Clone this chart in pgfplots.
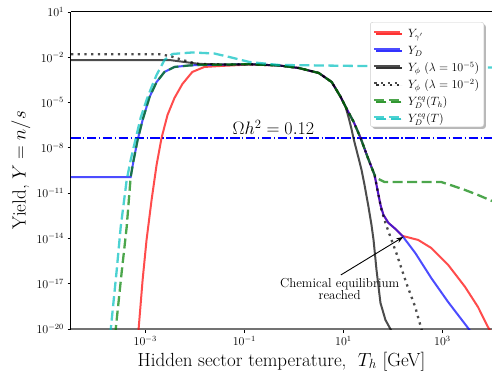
\RequirePackage{fix-cm}
\documentclass[border=0pt]{standalone}
\usepackage{pgfplots}
\pgfplotsset{compat=1.18}
\usetikzlibrary{arrows.meta,shadows}
\definecolor{cgreen}{RGB}{0,128,0}
\definecolor{ccyan}{RGB}{0,191,191}
\newcommand{\ls}{\rule[-5.4pt]{0pt}{18pt}}
\begin{document}
\begin{tikzpicture}
\begin{axis}[
  xmode=log, ymode=log,
  scale only axis, width=421pt, height=317pt,
  xmin=3.1623e-5, xmax=1e4, ymin=1e-20, ymax=1e1,
  axis x line*=bottom, axis y line*=left,
  x axis line style={draw=black!55, line width=2.5pt},
  y axis line style={draw=black, line width=1pt},
  xtick={1e-3,1e-1,1e1,1e3},
  ytick={1e1,1e-2,1e-5,1e-8,1e-11,1e-14,1e-17,1e-20},
  xminorticks=false, yminorticks=false,
  tick align=outside, major tick length=3.5pt,
  tick style={black, line width=0.8pt},
  tick label style={font=\fontsize{12}{14}\selectfont},
  xlabel={Hidden sector temperature,\ \ $T_h$ [GeV]},
  ylabel={Yield,\ $Y = n/s$},
  x label style={at={(axis description cs:0.5,-0.1167)}, anchor=base, font=\fontsize{19}{22}\selectfont},
  y label style={at={(axis description cs:-0.108,0.5)}, anchor=base, font=\fontsize{19}{22}\selectfont},
  no markers,
  legend cell align=left,
  legend image code/.code={\draw[#1] plot coordinates {(0pt,0pt) (26pt,0pt)};},
  legend style={at={(axis description cs:1,1)}, anchor=north east, xshift=-8pt, yshift=-10pt,
    draw=black!20, fill=white, rounded corners=2.5pt,
    drop shadow={shadow xshift=2pt, shadow yshift=-2pt, fill=black!35, opacity=0.8},
    font=\fontsize{12}{14}\selectfont, inner xsep=3pt, inner ysep=1pt,
    nodes={inner sep=1.5pt},
    /tikz/every odd column/.append style={column sep=5pt}},
]
\coordinate (sw) at (rel axis cs:0,0);
\coordinate (nw) at (rel axis cs:0,1);
\coordinate (ne) at (rel axis cs:1,1);

% Omega h^2 = 0.12 line
\addplot[forget plot, blue, line width=1.5pt, dash pattern=on 9.6pt off 2.4pt on 1.5pt off 2.4pt]
  coordinates {(3.1623e-5,4.57e-8) (1e4,4.57e-8)};

% Y_gamma'
\addplot[red, opacity=0.7, line width=2pt] coordinates {
 (7.2e-4,4e-21) (7.33e-4,1e-20) (8.83e-4,1.78e-17) (1.06e-3,7.94e-15) (1.34e-3,3.55e-12)
 (1.69e-3,7.41e-10) (2.13e-3,4.57e-8) (2.81e-3,1.51e-6) (3.88e-3,2.0e-5) (5.61e-3,1.70e-4)
 (8.91e-3,1.07e-3) (1.56e-2,2.29e-3) (3.11e-2,2.63e-3) (0.125,3.31e-3)
 (0.5,2.88e-3) (1.26,1.95e-3) (3.18,9.12e-4) (5.81,2.29e-4) (8.81,2.34e-5) (11.1,5.13e-6)
 (16.1,5.25e-7) (22.2,4.57e-8) (30.7,2.51e-9) (42.5,1.62e-10)
 (48.8,1.62e-11) (56.0,1.66e-12) (64.3,3.63e-13) (81.1,1.07e-13) (112,4.27e-14) (155,1.48e-14)
 (324,7.94e-15) (593,2.34e-15) (1300,1.78e-16) (2858,6.17e-18) (5212,2.88e-19) (8279,1.38e-20) (1e4,4.8e-21)
};
\addlegendentry{\ls$Y_{\gamma'}$}

% Y_D
\addplot[blue, opacity=0.7, line width=2pt] coordinates {
 (3.1623e-5,1.17e-10) (5.07e-4,1.17e-10) (5.82e-4,1.58e-9) (7.00e-4,3.31e-8) (8.83e-4,7.08e-7)
 (1.22e-3,2.34e-5) (1.69e-3,2.29e-4) (2.44e-3,1.07e-3) (3.88e-3,2.29e-3) (7.76e-3,2.88e-3)
 (1.23e-2,3.09e-3) (4.94e-2,3.31e-3) (0.125,3.47e-3)
 (0.5,2.88e-3) (1.26,1.95e-3) (3.18,9.12e-4) (5.81,2.29e-4) (8.81,2.34e-5) (11.1,5.13e-6)
 (16.1,5.25e-7) (22.2,4.57e-8) (30.7,2.51e-9) (42.5,1.62e-10)
 (48.8,1.62e-11) (56.0,1.66e-12) (64.3,3.63e-13) (81.1,1.07e-13) (112,4.27e-14) (155,1.48e-14)
 (282,1.10e-15) (593,2.40e-17) (1300,6.17e-19) (3281,1.17e-20) (4140,4.07e-21)
};
\addlegendentry{\ls$Y_D$}

% Y_phi lambda = 1e-5
\addplot[black, opacity=0.7, line width=2pt] coordinates {
 (3.1623e-5,6.61e-3) (3.08e-3,6.61e-3) (6.15e-3,4.90e-3) (1.23e-2,3.63e-3) (4.94e-2,3.31e-3) (0.125,3.47e-3)
 (0.5,2.88e-3) (1.26,1.95e-3) (3.18,9.12e-4) (5.81,2.29e-4) (8.81,2.34e-5) (11.1,5.13e-6)
 (12.8,9.55e-7) (14.7,1.55e-7) (16.1,3.89e-8) (20.2,2.14e-9) (23.2,3.47e-10) (26.7,3.47e-11)
 (32.1,1.23e-12) (36.9,7.76e-14) (40.6,7.94e-15) (46.6,8.13e-17) (56.0,5.37e-19) (70.6,3.98e-20)
 (88.9,1e-20) (102,4.07e-21)
};
\addlegendentry{\ls$Y_\phi\ (\lambda = 10^{-5})$}

% Y_phi lambda = 1e-2
\addplot[black, opacity=0.7, line width=2.3pt, dash pattern=on 2.3pt off 4.4pt] coordinates {
 (3.1623e-5,1.58e-2) (1.94e-3,1.58e-2) (3.08e-3,1.23e-2) (4.89e-3,7.76e-3) (7.76e-3,4.90e-3)
 (1.23e-2,3.63e-3) (4.94e-2,3.31e-3) (0.125,3.47e-3)
 (0.5,2.88e-3) (1.26,1.95e-3) (3.18,9.12e-4) (5.81,2.29e-4) (8.81,2.34e-5) (11.1,5.13e-6)
 (16.1,5.25e-7) (22.2,4.57e-8) (30.7,2.51e-9) (42.5,1.62e-10) (48.8,1.62e-11)
 (58.6,7.76e-13) (70.6,1.07e-13) (88.9,1.26e-14) (117,1.10e-15) (186,1.12e-17) (282,2.88e-19)
 (356,1.86e-20) (391,6.5e-21)
};
\addlegendentry{\ls$Y_\phi\ (\lambda = 10^{-2})$}

% Y_D^eq(T_h)
\addplot[cgreen, opacity=0.7, line width=2.3pt, dash pattern=on 10pt off 4.5pt] coordinates {
 (2.50e-4,4e-21) (2.53e-4,1e-20) (3.34e-4,6.03e-17) (4.21e-4,5.75e-14) (5.07e-4,1.17e-10)
 (5.82e-4,1.58e-9) (7.00e-4,3.31e-8) (8.83e-4,7.08e-7)
 (1.22e-3,2.34e-5) (1.69e-3,2.29e-4) (2.44e-3,1.07e-3) (3.88e-3,2.29e-3) (7.76e-3,2.88e-3)
 (1.23e-2,3.09e-3) (4.94e-2,3.31e-3) (0.125,3.47e-3)
 (0.5,2.88e-3) (1.26,1.95e-3) (3.18,9.12e-4) (5.81,2.29e-4) (8.81,2.34e-5) (11.1,5.13e-6)
 (16.1,5.25e-7) (22.2,4.57e-8) (30.7,2.51e-9) (42.5,1.62e-10)
 (51.1,8.71e-11) (67.5,5.50e-11) (129,5.50e-11) (942,5.50e-11) (1640,3.02e-11) (2858,1.62e-11)
 (5212,7.59e-12) (1e4,3.02e-12)
};
\addlegendentry{\ls$Y_D^{eq}(T_h)$}

% Y_D^eq(T)
\addplot[ccyan, opacity=0.7, line width=2.3pt, dash pattern=on 10pt off 4.5pt] coordinates {
 (1.98e-4,4e-21) (2.01e-4,1e-20) (2.65e-4,8.13e-17) (3.19e-4,5.75e-14) (4.21e-4,7.41e-11)
 (5.07e-4,1.58e-9) (6.38e-4,3.89e-8) (8.05e-4,9.55e-7) (1.06e-3,1.48e-5) (1.34e-3,1.07e-4)
 (1.69e-3,6.76e-4) (2.44e-3,6.61e-3) (3.54e-3,1.66e-2) (8.91e-3,2.09e-2) (2.47e-2,1.78e-2)
 (4.94e-2,1.05e-2) (0.125,4.90e-3) (0.5,3.09e-3) (3.18,2.88e-3) (129,2.45e-3) (1e4,2.11e-3)
};
\addlegendentry{\ls$Y_D^{eq}(T)$}

\node[anchor=base, font=\fontsize{18}{21}\selectfont] at (axis cs:0.387,7.15e-8) {$\Omega h^2 = 0.12$};
\node[align=center, font=\fontsize{13}{12.5}\selectfont] at (axis cs:8.40,4.57e-18) {Chemical equilibrium\\reached};
\draw[-{Stealth[length=7pt,width=5pt]}, line width=0.9pt] (axis cs:8.87,3.8e-17) -- (axis cs:162,1.26e-14);
\end{axis}
\draw[black, line width=1pt] (nw) -- (ne);
\pgfresetboundingbox
\path[use as bounding box] (sw) ++(-71pt,-44pt) rectangle ++(492pt,373pt);
\end{tikzpicture}
\end{document}
